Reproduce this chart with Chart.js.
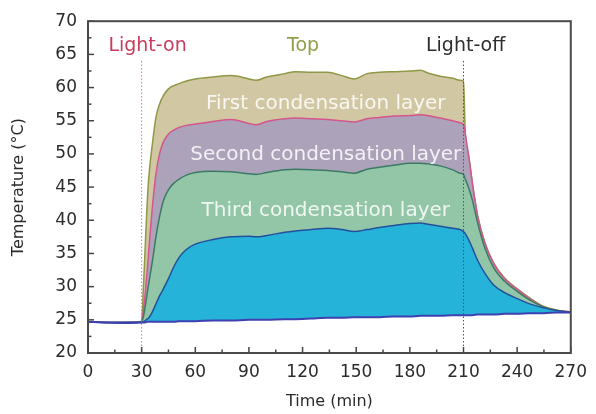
<!DOCTYPE html>
<html>
<head>
<meta charset="utf-8">
<script src="https://cdn.jsdelivr.net/npm/chart.js@4.4.1/dist/chart.umd.min.js"></script>
<style>
  html, body { margin: 0; padding: 0; background: #fff; }
  #cadre { width: 596px; height: 414px; position: relative; }
</style>
</head>
<body>
<div id="cadre"><canvas id="graphique"></canvas></div>
<script>
// ============================================================================
// Données
// ============================================================================
const temps = [
  0, 10, 20, 30, 31, 32, 33, 34, 36, 38,
  40, 42, 45, 48, 51, 55, 60, 70, 80, 90,
  94, 100, 110, 116, 125, 134, 142, 149, 156, 163,
  171, 180, 186, 190, 197, 204, 208, 210, 211, 213,
  215, 218, 222, 227, 233, 240, 247, 255, 262, 270
];

// Ligne de base (bas du remplissage bleu)
const tempBase = [
  24.7, 24.6, 24.6, 24.6, 24.6, 24.6, 24.7, 24.7, 24.7, 24.7,
  24.7, 24.7, 24.7, 24.7, 24.8, 24.8, 24.8, 24.9, 24.9, 25.0,
  25.0, 25.0, 25.1, 25.1, 25.2, 25.3, 25.3, 25.4, 25.4, 25.4,
  25.5, 25.5, 25.6, 25.6, 25.6, 25.7, 25.7, 25.7, 25.7, 25.7,
  25.7, 25.8, 25.8, 25.8, 25.9, 25.9, 26.0, 26.0, 26.1, 26.1
];

// Troisième couche de condensation
const tempTroisieme = [
  24.7, 24.6, 24.5, 24.6, 24.7, 24.9, 25.1, 25.3, 26.2, 27.4,
  28.6, 29.6, 31.2, 33.0, 34.4, 35.6, 36.4, 37.1, 37.5, 37.6,
  37.5, 37.7, 38.2, 38.4, 38.6, 38.8, 38.6, 38.3, 38.6, 38.9,
  39.2, 39.5, 39.6, 39.4, 39.1, 38.8, 38.6, 38.3, 38.0, 37.0,
  35.8, 33.9, 32.0, 30.2, 29.1, 28.2, 27.4, 26.8, 26.4, 26.1
];

// Deuxième couche de condensation
const tempDeuxieme = [
  24.7, 24.6, 24.6, 24.7, 25.5, 27.0, 28.8, 30.5, 33.8, 37.5,
  40.5, 42.8, 44.6, 45.6, 46.2, 46.8, 47.2, 47.4, 47.3, 47.0,
  46.9, 47.2, 47.6, 47.7, 47.6, 47.5, 47.3, 47.1, 47.7, 48.0,
  48.3, 48.6, 48.6, 48.5, 48.2, 47.6, 47.1, 46.9, 46.2, 44.8,
  43.0, 39.5, 35.8, 32.8, 30.8, 29.3, 28.0, 26.9, 26.4, 26.1
];

// Première couche de condensation
const tempPremiere = [
  24.7, 24.6, 24.6, 24.7, 26.5, 29.0, 32.0, 35.5, 42.0, 47.0,
  50.0, 51.7, 53.0, 53.6, 54.0, 54.3, 54.5, 54.9, 55.2, 54.6,
  54.4, 54.9, 55.3, 55.4, 55.3, 55.2, 55.0, 54.8, 55.3, 55.5,
  55.7, 55.8, 55.9, 55.8, 55.4, 55.0, 54.7, 54.4, 53.0, 49.5,
  45.5, 40.5, 36.5, 33.4, 31.2, 29.6, 28.2, 26.9, 26.4, 26.2
];

// Sommet
const tempSommet = [
  24.7, 24.6, 24.6, 24.8, 30.0, 36.0, 42.0, 46.5, 51.5, 55.5,
  57.5, 58.7, 59.8, 60.3, 60.6, 61.0, 61.3, 61.6, 61.8, 61.3,
  61.1, 61.6, 62.1, 62.4, 62.3, 62.3, 61.8, 61.3, 62.1, 62.3,
  62.4, 62.5, 62.6, 62.2, 61.7, 61.4, 61.1, 61.0, 53.2, 49.6,
  45.6, 40.6, 36.6, 33.5, 31.3, 29.7, 28.3, 27.0, 26.5, 26.2
];

const ticksX = [0, 30, 60, 90, 120, 150, 180, 210, 240, 270];
const ticksY = [20, 25, 30, 35, 40, 45, 50, 55, 60, 65, 70];

const POLICE = '"DejaVu Sans", "Liberation Sans", sans-serif';
const GRIS_TEXTE = '#2b2b2b';

// ============================================================================
// Utilitaires
// ============================================================================
function versPoints(serie) {
  return temps.map((t, i) => ({ x: t, y: serie[i] }));
}

function creerSerie(nom, serie, couleurLigne, couleurFond, largeur) {
  return {
    label: nom,
    data: versPoints(serie),
    borderColor: couleurLigne,
    backgroundColor: couleurFond,
    borderWidth: largeur,
    pointRadius: 0,
    cubicInterpolationMode: 'monotone',
    fill: couleurFond ? '-1' : false
  };
}

// Cadre, graduations intérieures, repères et étiquettes
const decorations = {
  id: 'decorations',
  afterDatasetsDraw(chart) {
    const { ctx, chartArea: zone, scales: { x, y } } = chart;
    ctx.save();

    // Repères verticaux pointillés (allumage / extinction)
    ctx.lineWidth = 1;
    ctx.setLineDash([1.5, 2]);
    [[30, '#d9738e'], [210, '#555555']].forEach(([t, couleur]) => {
      ctx.strokeStyle = couleur;
      ctx.beginPath();
      ctx.moveTo(x.getPixelForValue(t), y.getPixelForValue(64));
      ctx.lineTo(x.getPixelForValue(t), zone.bottom);
      ctx.stroke();
    });
    ctx.setLineDash([]);

    // Étiquettes
    ctx.textAlign = 'center';
    ctx.textBaseline = 'middle';
    ctx.font = '19px ' + POLICE;
    ctx.fillStyle = '#c83c5c';
    ctx.fillText('Light-on', x.getPixelForValue(33.3), y.getPixelForValue(66.3));
    ctx.fillStyle = '#939e48';
    ctx.fillText('Top', x.getPixelForValue(120.3), y.getPixelForValue(66.3));
    ctx.fillStyle = '#2e2e2e';
    ctx.fillText('Light-off', x.getPixelForValue(211.2), y.getPixelForValue(66.3));

    ctx.font = '20px ' + POLICE;
    ctx.fillStyle = 'rgba(255,255,255,0.85)';
    ctx.fillText('First condensation layer', x.getPixelForValue(133), y.getPixelForValue(57.6));
    ctx.fillText('Second condensation layer', x.getPixelForValue(133), y.getPixelForValue(49.8));
    ctx.fillText('Third condensation layer', x.getPixelForValue(133), y.getPixelForValue(41.4));

    // Graduations vers l'intérieur
    ctx.strokeStyle = '#444444';
    ctx.lineWidth = 1.5;
    for (let v = 20; v <= 70; v += 2.5) {
      const long = v % 5 === 0 ? 6 : 3.5;
      const py = y.getPixelForValue(v);
      ctx.beginPath();
      ctx.moveTo(zone.left, py);
      ctx.lineTo(zone.left + long, py);
      ctx.stroke();
    }
    for (let t = 0; t <= 270; t += 15) {
      const long = t % 30 === 0 ? 6 : 3.5;
      const px = x.getPixelForValue(t);
      ctx.beginPath();
      ctx.moveTo(px, zone.bottom);
      ctx.lineTo(px, zone.bottom - long);
      ctx.stroke();
    }

    // Cadre
    ctx.strokeStyle = '#4a4a4a';
    ctx.lineWidth = 2;
    ctx.strokeRect(zone.left, zone.top, zone.right - zone.left, zone.bottom - zone.top);
    ctx.restore();
  }
};

// ============================================================================
// Graphique
// ============================================================================
new Chart(document.getElementById('graphique'), {
  type: 'line',
  data: {
    datasets: [
      creerSerie('Base', tempBase, '#3d40b0', null, 2),
      creerSerie('Third condensation layer', tempTroisieme, '#22509c', '#26b3d9', 1.5),
      creerSerie('Second condensation layer', tempDeuxieme, '#3b7b66', '#93c6a7', 1.5),
      creerSerie('First condensation layer', tempPremiere, '#d4568c', '#aca2b9', 1.5),
      creerSerie('Top', tempSommet, '#8e9845', '#d1c8a3', 1.5)
    ]
  },
  options: {
    responsive: true,
    maintainAspectRatio: false,
    animation: false,
    layout: { padding: { top: 17, right: 21, left: 0, bottom: 0 } },
    plugins: {
      legend: { display: false },
      tooltip: { enabled: false }
    },
    scales: {
      x: {
        type: 'linear',
        min: 0,
        max: 270,
        afterBuildTicks: (axe) => { axe.ticks = ticksX.map(v => ({ value: v })); },
        afterFit: (axe) => { axe.height = 61; },
        ticks: { padding: 9, color: GRIS_TEXTE, font: { family: POLICE, size: 17 } },
        grid: { display: false, drawTicks: false },
        border: { display: false },
        title: {
          display: true,
          text: 'Time (min)',
          color: GRIS_TEXTE,
          font: { family: POLICE, size: 16 },
          padding: { top: 0, bottom: 3 }
        }
      },
      y: {
        min: 20,
        max: 70,
        afterBuildTicks: (axe) => { axe.ticks = ticksY.map(v => ({ value: v })); },
        afterFit: (axe) => { axe.width = 88; },
        ticks: { padding: 11, color: GRIS_TEXTE, font: { family: POLICE, size: 17 } },
        grid: { display: false, drawTicks: false },
        border: { display: false },
        title: {
          display: true,
          text: 'Temperature (°C)',
          color: GRIS_TEXTE,
          font: { family: POLICE, size: 16 },
          padding: { top: 9, bottom: 0 }
        }
      }
    }
  },
  plugins: [decorations]
});
</script>
</body>
</html>
